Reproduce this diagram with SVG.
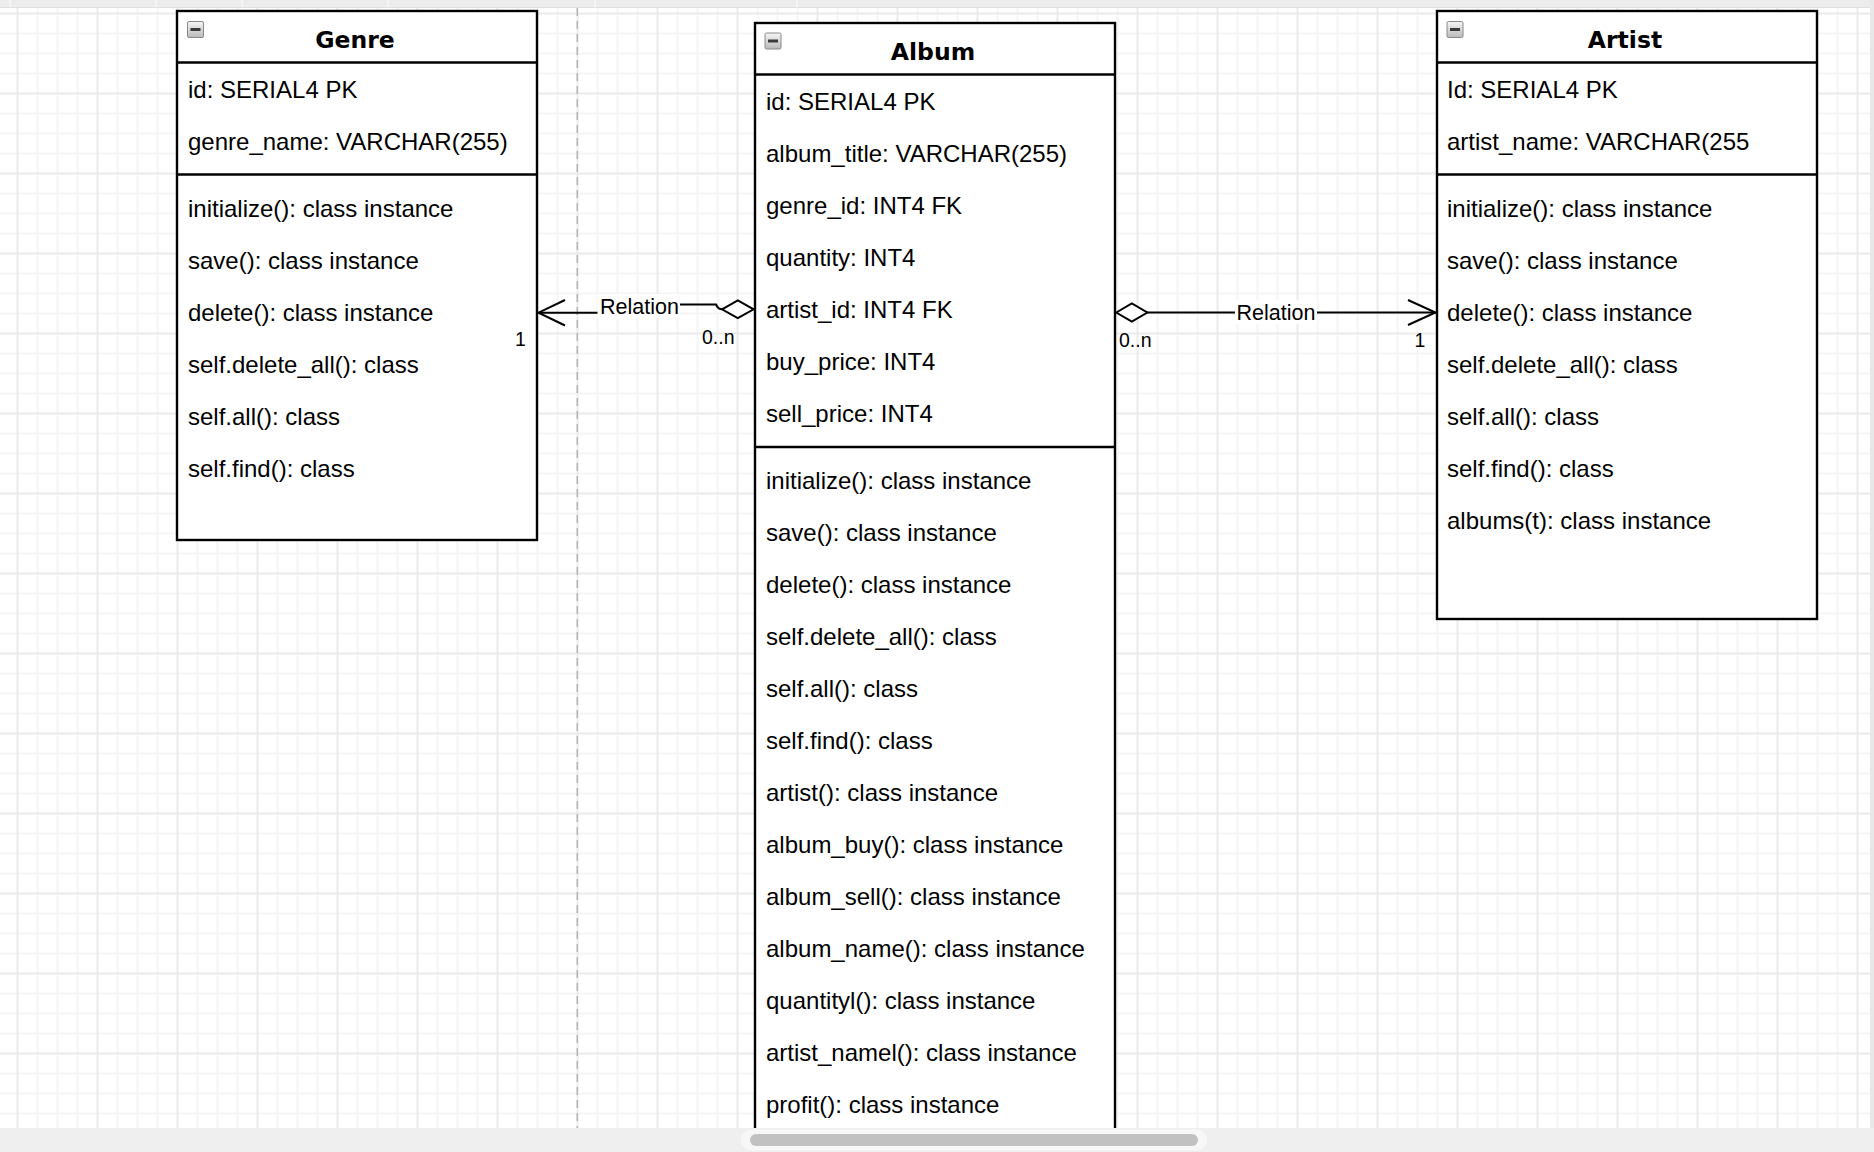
<svg xmlns="http://www.w3.org/2000/svg" width="1874" height="1152" viewBox="0 0 1874 1152">
  <style>
    .box { fill: #ffffff; stroke: #000000; stroke-width: 2.4; }
    .sep { stroke: #000000; stroke-width: 2.4; }
    .title { font-family: "DejaVu Sans", Verdana, sans-serif; font-weight: bold; font-size: 23.5px; text-anchor: middle; fill: #000000; }
    .row { font-family: "Liberation Sans", Arial, sans-serif; font-size: 24px; fill: #000000; }
    .edge { fill: none; stroke: #000000; stroke-width: 2; }
    .diamond { fill: #ffffff; stroke: #000000; stroke-width: 2; }
    .elabel { font-family: "Liberation Sans", Arial, sans-serif; font-size: 21.5px; text-anchor: middle; fill: #000000; }
    .mult { font-family: "Liberation Sans", Arial, sans-serif; font-size: 19.5px; fill: #000000; }
    .lblbg { fill: #ffffff; }
  </style>
  <defs>
    <pattern id="grid" x="16.5" y="12.5" width="80" height="80" patternUnits="userSpaceOnUse">
      <rect width="80" height="80" fill="#ffffff"/>
      <g fill="#f5f5f5">
        <rect x="20" y="0" width="2" height="80"/>
        <rect x="40" y="0" width="2" height="80"/>
        <rect x="60" y="0" width="2" height="80"/>
        <rect x="0" y="20" width="80" height="2"/>
        <rect x="0" y="40" width="80" height="2"/>
        <rect x="0" y="60" width="80" height="2"/>
      </g>
      <g fill="#ebebeb">
        <rect x="0" y="0" width="2" height="80"/>
        <rect x="0" y="0" width="80" height="2"/>
      </g>
    </pattern>
    <linearGradient id="iconFill" x1="0" y1="0" x2="0" y2="1">
      <stop offset="0" stop-color="#f6f6f6"/>
      <stop offset="1" stop-color="#b9b9b9"/>
    </linearGradient>
    <!-- collapse toggle shown in each class header -->
    <g id="toggle">
      <rect x="0.5" y="0.5" width="16" height="16" rx="1.5" fill="url(#iconFill)" stroke="#8a8a8a" stroke-width="1"/>
      <rect x="3.5" y="7" width="10" height="3" fill="#3a3a3a"/>
    </g>
  </defs>

  <!-- canvas with grid -->
  <rect x="0" y="0" width="1874" height="1152" fill="url(#grid)"/>

  <!-- page break guide -->
  <line x1="577.3" y1="8" x2="577.3" y2="1128" stroke="#b4b4b4" stroke-width="1.5" stroke-dasharray="8 5"/>

  <!-- Genre -->
  <g id="node-genre">
    <rect class="box" x="177" y="11" width="360" height="529"/>
    <line class="sep" x1="177" y1="62.5" x2="537" y2="62.5"/>
    <line class="sep" x1="177" y1="174.5" x2="537" y2="174.5"/>
    <use href="#toggle" x="187" y="21"/>
    <text class="title" x="355" y="48">Genre</text>
    <text class="row" x="188" y="98">id: SERIAL4 PK</text>
    <text class="row" x="188" y="150">genre_name: VARCHAR(255)</text>
    <text class="row" x="188" y="217">initialize(): class instance</text>
    <text class="row" x="188" y="269">save(): class instance</text>
    <text class="row" x="188" y="321">delete(): class instance</text>
    <text class="row" x="188" y="373">self.delete_all(): class</text>
    <text class="row" x="188" y="425">self.all(): class</text>
    <text class="row" x="188" y="477">self.find(): class</text>
  </g>

  <!-- Album -->
  <g id="node-album">
    <rect class="box" x="755" y="23" width="360" height="1140"/>
    <line class="sep" x1="755" y1="74.5" x2="1115" y2="74.5"/>
    <line class="sep" x1="755" y1="447" x2="1115" y2="447"/>
    <use href="#toggle" x="764.5" y="32.5"/>
    <text class="title" x="933" y="60">Album</text>
    <text class="row" x="766" y="110">id: SERIAL4 PK</text>
    <text class="row" x="766" y="162">album_title: VARCHAR(255)</text>
    <text class="row" x="766" y="214">genre_id: INT4 FK</text>
    <text class="row" x="766" y="266">quantity: INT4</text>
    <text class="row" x="766" y="318">artist_id: INT4 FK</text>
    <text class="row" x="766" y="370">buy_price: INT4</text>
    <text class="row" x="766" y="422">sell_price: INT4</text>
    <text class="row" x="766" y="489">initialize(): class instance</text>
    <text class="row" x="766" y="541">save(): class instance</text>
    <text class="row" x="766" y="593">delete(): class instance</text>
    <text class="row" x="766" y="645">self.delete_all(): class</text>
    <text class="row" x="766" y="697">self.all(): class</text>
    <text class="row" x="766" y="749">self.find(): class</text>
    <text class="row" x="766" y="801">artist(): class instance</text>
    <text class="row" x="766" y="853">album_buy(): class instance</text>
    <text class="row" x="766" y="905">album_sell(): class instance</text>
    <text class="row" x="766" y="957">album_name(): class instance</text>
    <text class="row" x="766" y="1009">quantityl(): class instance</text>
    <text class="row" x="766" y="1061">artist_namel(): class instance</text>
    <text class="row" x="766" y="1113">profit(): class instance</text>
  </g>

  <!-- Artist -->
  <g id="node-artist">
    <rect class="box" x="1437" y="11" width="380" height="608"/>
    <line class="sep" x1="1437" y1="62.5" x2="1817" y2="62.5"/>
    <line class="sep" x1="1437" y1="174.5" x2="1817" y2="174.5"/>
    <use href="#toggle" x="1446.5" y="21"/>
    <text class="title" x="1625" y="48">Artist</text>
    <text class="row" x="1447" y="98">Id: SERIAL4 PK</text>
    <text class="row" x="1447" y="150">artist_name: VARCHAR(255</text>
    <text class="row" x="1447" y="217">initialize(): class instance</text>
    <text class="row" x="1447" y="269">save(): class instance</text>
    <text class="row" x="1447" y="321">delete(): class instance</text>
    <text class="row" x="1447" y="373">self.delete_all(): class</text>
    <text class="row" x="1447" y="425">self.all(): class</text>
    <text class="row" x="1447" y="477">self.find(): class</text>
    <text class="row" x="1447" y="529">albums(t): class instance</text>
  </g>

  <!-- Relations -->
  <g id="connectors">
    <!-- Album aggregates Genre -->
    <g id="edge-album-genre">
      <path class="edge" d="M 722 309.3 Q 718 309.3 716 304.5 L 640 304.5 L 640 312.7 L 538.5 312.7"/>
      <path class="edge" d="M 565 300 L 538.5 312.7 L 565 325.5"/>
      <path class="diamond" d="M 722 309.3 L 737.8 300.5 L 753.6 309.3 L 737.8 318.1 Z"/>
      <rect class="lblbg" x="597.5" y="294" width="82.5" height="24"/>
      <text class="elabel" x="639.5" y="313.5">Relation</text>
      <text class="mult" x="702" y="344">0..n</text>
      <text class="mult" x="515" y="346">1</text>
    </g>
    <!-- Album aggregates Artist -->
    <g id="edge-album-artist">
      <path class="edge" d="M 1147 312.5 L 1435.5 312.5"/>
      <path class="edge" d="M 1408 300 L 1435.5 312.5 L 1408 325"/>
      <path class="diamond" d="M 1116.3 312.5 L 1131.8 303.5 L 1147.3 312.5 L 1131.8 321.5 Z"/>
      <rect class="lblbg" x="1235" y="300" width="82" height="24"/>
      <text class="elabel" x="1276" y="320">Relation</text>
      <text class="mult" x="1119" y="347">0..n</text>
      <text class="mult" x="1414.5" y="347">1</text>
    </g>
  </g>

  <!-- editor chrome: top strip, right strip, bottom scroll bar -->
  <rect x="0" y="0" width="1874" height="7" fill="#ececec"/>
  <line x1="0" y1="7.5" x2="1874" y2="7.5" stroke="#e0e0e0" stroke-width="1"/>
  <g stroke="#f9f9f9" stroke-width="1.5">
    <line x1="10" y1="0" x2="10" y2="7"/>
    <line x1="156" y1="0" x2="156" y2="7"/>
    <line x1="242" y1="0" x2="242" y2="7"/>
    <line x1="388" y1="0" x2="388" y2="7"/>
    <line x1="595" y1="0" x2="595" y2="7"/>
    <line x1="797" y1="0" x2="797" y2="7"/>
  </g>
  <rect x="1870" y="0" width="4" height="1128" fill="#e8e8e8"/>
  <rect x="0" y="1128" width="1874" height="24" fill="#efefef"/>
  <rect x="741" y="1129.5" width="466" height="21" rx="10" fill="#f7f7f7"/>
  <rect x="750" y="1134" width="448" height="12" rx="6" fill="#c1c1c1"/>
</svg>
